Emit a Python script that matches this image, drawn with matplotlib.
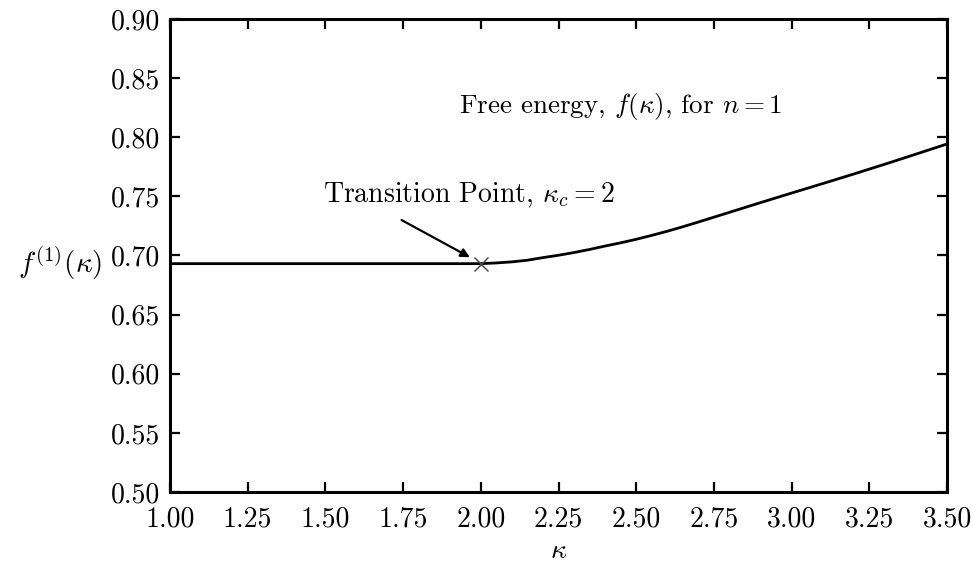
import numpy as np
import matplotlib
matplotlib.use("Agg")
import matplotlib.pyplot as plt

plt.rcParams["font.family"] = "serif"
plt.rcParams["font.serif"] = ["cmr10"]
plt.rcParams["mathtext.fontset"] = "cm"
plt.rcParams["axes.formatter.use_mathtext"] = True
plt.rcParams["axes.unicode_minus"] = False

# free energy
kappa = [1.0, 2.0, 2.05, 2.1, 2.15, 2.2, 2.25, 2.3, 2.35, 2.4, 2.45, 2.5, 2.55,
         2.6, 2.65, 2.7, 2.8, 2.9, 3.0, 3.1, 3.2, 3.3, 3.4, 3.5]
free_energy = [0.6931, 0.6931, 0.6937, 0.6946, 0.6960, 0.6982, 0.7002, 0.7025,
               0.7051, 0.7080, 0.7107, 0.7137, 0.7170, 0.7205, 0.7243, 0.7283,
               0.7365, 0.7447, 0.7528, 0.7608, 0.7689, 0.7772, 0.7857, 0.7943]
kappa_c = 2.0
f_c = 0.6931

xticks = [1.00, 1.25, 1.50, 1.75, 2.00, 2.25, 2.50, 2.75, 3.00, 3.25, 3.50]
yticks = [0.50, 0.55, 0.60, 0.65, 0.70, 0.75, 0.80, 0.85, 0.90]

fig = plt.figure(figsize=(9.73, 5.63), dpi=100)
ax = fig.add_axes([0.1747, 0.1261, 0.7986, 0.8402])

ax.plot(kappa, free_energy, color="black", linewidth=2.0)
ax.plot([kappa_c], [f_c], marker="x", color="#444444", markersize=10,
        markeredgewidth=1.0, linestyle="none")

ax.set_xlim(1.0, 3.5)
ax.set_ylim(0.5, 0.9)
ax.set_xticks(xticks)
ax.set_yticks(yticks)
ax.set_xticklabels(["%.2f" % v for v in xticks])
ax.set_yticklabels(["%.2f" % v for v in yticks])
ax.tick_params(direction="in", length=7, width=1.6, top=True, right=True,
               labelsize=20, pad=7)
ax.tick_params(axis="x", pad=10)
for s in ax.spines.values():
    s.set_linewidth(2.2)

ax.set_xlabel(r"$\kappa$", fontsize=20, labelpad=4)
ax.set_ylabel(r"$f^{(1)}(\kappa)$", fontsize=21, rotation=0, ha="center", va="center")
ax.yaxis.set_label_coords(-0.142, 0.484)

ax.text(2.45, 0.826, r"Free energy, $f(\kappa)$, for $n=1$", fontsize=19.5,
        ha="center", va="center")
ax.text(1.96, 0.751, r"Transition Point, $\kappa_c=2$", fontsize=20,
        ha="center", va="center")
ax.annotate("", xy=(1.965, 0.6985), xytext=(1.745, 0.730),
            arrowprops=dict(arrowstyle="-|>", color="black", lw=1.6,
                            mutation_scale=13, shrinkA=0, shrinkB=0))

fig.savefig("out.png", dpi=100)
